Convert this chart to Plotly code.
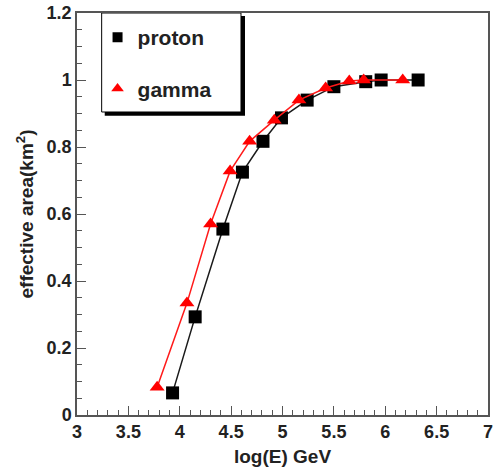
import plotly.graph_objects as go

proton_x = [3.93, 4.15, 4.42, 4.61, 4.81, 4.99, 5.24, 5.50, 5.81, 5.96, 6.32]
proton_y = [0.066, 0.293, 0.555, 0.725, 0.817, 0.887, 0.940, 0.980, 0.995, 1.000, 1.000]

gamma_x = [3.78, 4.07, 4.30, 4.49, 4.68, 4.92, 5.16, 5.42, 5.65, 5.79, 6.17]
gamma_y = [0.083, 0.334, 0.570, 0.728, 0.817, 0.880, 0.940, 0.976, 0.997, 1.000, 1.000]

x_ticks = [3, 3.5, 4, 4.5, 5, 5.5, 6, 6.5, 7]
x_ticktext = ["3", "3.5", "4", "4.5", "5", "5.5", "6", "6.5", "7"]
y_ticks = [0, 0.2, 0.4, 0.6, 0.8, 1, 1.2]
y_ticktext = ["0", "0.2", "0.4", "0.6", "0.8", "1", "1.2"]

FONT = "Liberation Sans, Arial, sans-serif"
TXT = "#222222"

fig = go.Figure()
fig.add_trace(go.Scatter(
    x=proton_x, y=proton_y, mode="lines+markers", name="proton",
    line=dict(color="#1a1a1a", width=1.5),
    marker=dict(symbol="square", size=13, color="black"),
    showlegend=False,
))
fig.add_trace(go.Scatter(
    x=gamma_x, y=gamma_y, mode="lines+markers", name="gamma",
    line=dict(color="#ff1a1a", width=1.5),
    marker=dict(symbol="triangle-up", size=13, color="#ff0000"),
    showlegend=False,
))
# legend entries (marker only, as in the reference)
fig.add_trace(go.Scatter(
    x=[None], y=[None], mode="markers", name="<b>proton</b>",
    marker=dict(symbol="square", size=10, color="black"), legendgroup="p",
))
fig.add_trace(go.Scatter(
    x=[None], y=[None], mode="markers", name="<b>gamma</b>",
    marker=dict(symbol="triangle-up", size=11, color="#ff0000"), legendgroup="g",
))

# legend box with shadow (ROOT style)
fig.add_shape(type="rect", xref="x", yref="y", x0=3.27, x1=4.635, y0=0.893, y1=1.191,
              fillcolor="black", line=dict(width=0), layer="below")
fig.add_shape(type="rect", xref="x", yref="y", x0=3.24, x1=4.596, y0=0.9045, y1=1.2,
              fillcolor="white", line=dict(color="black", width=1), layer="below")

fig.update_layout(
    width=494, height=472,
    margin=dict(l=77, r=1, t=13, b=57),
    paper_bgcolor="white", plot_bgcolor="white",
    font=dict(family=FONT, color=TXT),
    showlegend=True,
    legend=dict(
        x=0.05, y=0.99, xanchor="left", yanchor="top",
        bgcolor="rgba(0,0,0,0)", borderwidth=0,
        font=dict(family=FONT, size=21, color=TXT),
        tracegroupgap=21, traceorder="grouped", itemwidth=30,
    ),
    xaxis=dict(
        range=[3, 7], tickmode="array", tickvals=x_ticks, ticktext=x_ticktext,
        ticks="inside", ticklen=9, tickwidth=1, tickcolor="#555555",
        minor=dict(dtick=0.1, ticks="inside", ticklen=5, tickcolor="#555555", showgrid=False),
        showgrid=False, zeroline=False,
        showline=True, linecolor="#555555", linewidth=1.5, mirror=True,
        tickfont=dict(family=FONT, size=18, weight="bold", color=TXT),
        ticklabeloverflow="allow",
        title=dict(text="<b>log(E) GeV</b>", font=dict(family=FONT, size=19, color=TXT), standoff=8),
    ),
    yaxis=dict(
        range=[0, 1.2], tickmode="array", tickvals=y_ticks, ticktext=y_ticktext,
        ticks="inside", ticklen=9, tickwidth=1, tickcolor="#555555",
        minor=dict(dtick=0.05, ticks="inside", ticklen=5, tickcolor="#555555", showgrid=False),
        showgrid=False, zeroline=False,
        showline=True, linecolor="#555555", linewidth=1.5, mirror=True,
        tickfont=dict(family=FONT, size=18, weight="bold", color=TXT),
        ticklabeloverflow="allow",
        title=dict(text="<b>effective area(km<sup>2</sup>)</b>", font=dict(family=FONT, size=19, color=TXT), standoff=8),
    ),
)

fig.write_html("out.html")
